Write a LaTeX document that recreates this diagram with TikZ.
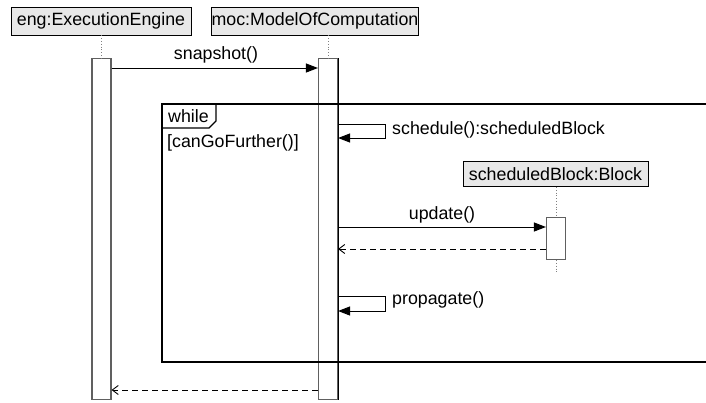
\documentclass[tikz,border=0pt]{standalone}
\usepackage{fontspec}
\setmainfont{Liberation Sans}
\usetikzlibrary{arrows.meta,positioning,calc}
\definecolor{hdrfill}{HTML}{E8E8E8}
\definecolor{barline}{HTML}{606060}
\tikzset{
  lbl/.style={font=\fontsize{17.8}{21}\selectfont, inner sep=0pt},
  hdr/.style={draw=black, fill=hdrfill, line width=0.9pt, inner sep=0pt, minimum height=28pt, font=\fontsize{17.8}{21}\selectfont},
  actbar/.style={draw=barline, fill=white, line width=1.1pt, minimum width=19pt, inner sep=0pt, anchor=north},
  life/.style={draw=gray, dotted, line width=0.8pt},
  msg/.style={draw=black, line width=1pt, -{Triangle[length=12pt,width=9pt]}},
  ret/.style={draw=black, line width=0.9pt, dash pattern=on 6pt off 4pt, -{Straight Barb[length=6pt,width=9pt]}},
  frm/.style={draw=black, line width=1.2pt}
}
\begin{document}
\begin{tikzpicture}[x=1pt,y=-1pt]
\useasboundingbox (0,0) rectangle (706,402);
% headers
\node[hdr, minimum width=180pt] (eng) at (101,21) {eng:ExecutionEngine};
\node[hdr, minimum width=193pt] (moc) at (315,21) {moc:ModelOfComputation};
\node[hdr, minimum width=185pt, minimum height=25pt] (blk) at (555.5,174) {scheduledBlock:Block};
% activation bars
\node[actbar, minimum height=341pt] (ebar) at (101.5,58) {};
\node[actbar, minimum height=341pt] (mbar) at (328,58) {};
\node[actbar, minimum height=42pt] (bbar) at (556,217) {};
\draw[black, line width=1.1pt] (mbar.north east) -- (mbar.south east);
% lifelines
\draw[life] (eng.south -| ebar.north) -- (ebar.north);
\draw[life] (moc.south -| mbar.north) -- (mbar.north);
\draw[life] (blk.south -| bbar.north) -- (bbar.north);
\coordinate (bend) at (556,272);
\draw[life] (bbar.south) -- (bend);
% frame
\coordinate (frTL) at (162,104);
\coordinate (frBL) at (162,362);
\draw[frm] (710,104) -- (frTL) -- (frBL) -- (710,362);
\draw[frm] (162,128) -- (209,128) -- (216,121) -- (216,104);
\node[lbl, anchor=west] (wh) at (168,116) {while};
\node[lbl, anchor=west] (guard) at (167,143) {[canGoFurther()]};
% snapshot
\draw[msg] (ebar.east |- 0,68) -- (mbar.west |- 0,68);
\node[lbl] (snap) at (216,55) {snapshot()};
% schedule self message
\draw[msg] (mbar.east |- 0,124) -- (385,124) -- (385,138) -- (mbar.east |- 0,138);
\node[lbl, anchor=west] (sch) at (392,130) {schedule():scheduledBlock};
% update
\draw[msg] (mbar.east |- 0,227) -- (bbar.west |- 0,227);
\node[lbl] (upd) at (442,215) {update()};
\draw[ret] (bbar.west |- 0,249) -- (mbar.east |- 0,249);
% propagate
\draw[msg] (mbar.east |- 0,296) -- (385,296) -- (385,311) -- (mbar.east |- 0,311);
\node[lbl, anchor=west] (prop) at (392,300) {propagate()};
% final return
\draw[ret] (mbar.west |- 0,390) -- (ebar.east |- 0,390);
\end{tikzpicture}
\end{document}
